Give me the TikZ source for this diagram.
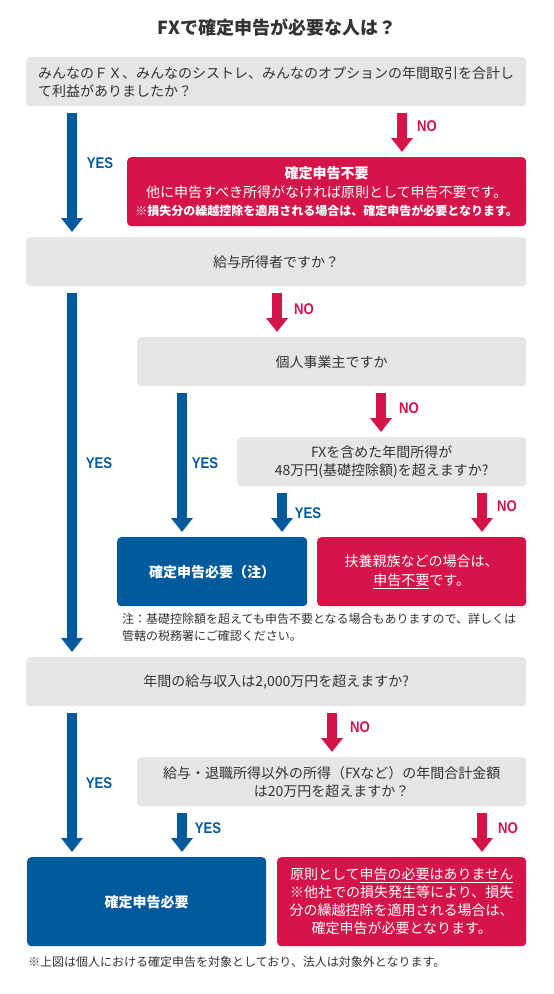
\documentclass[tikz,border=0pt]{standalone}
\usepackage{fontspec}
\setmainfont{Noto Sans CJK JP}
\newfontfamily\lblfont[FakeStretch=0.85]{Liberation Sans}
\usetikzlibrary{arrows.meta}
\definecolor{fxblue}{HTML}{005A9C}
\definecolor{fxred}{HTML}{D5154A}
\definecolor{fxgray}{HTML}{E6E6E6}
\definecolor{fxtext}{HTML}{333333}
\tikzset{
  boxbase/.style={rounded corners=4pt, inner sep=0pt, anchor=north west, align=center},
  qbox/.style={boxbase, fill=fxgray, text=fxtext, font=\fontsize{14}{18}\selectfont},
  rbox/.style={boxbase, fill=fxred, text=white, font=\fontsize{14}{18.5}\selectfont},
  bbox/.style={boxbase, fill=fxblue, text=white, font=\bfseries\fontsize{14}{18}\selectfont},
  yesarr/.style={color=fxblue, line width=10pt, -{Triangle[width=21pt,length=14pt]}, shorten <=7pt, shorten >=5pt},
  noarr/.style={yesarr, color=fxred},
  yeslbl/.style={text=fxblue, font=\lblfont\bfseries\fontsize{15.5}{15.5}\selectfont, inner sep=0pt},
  nolbl/.style={yeslbl, text=fxred},
  plaintext/.style={text=fxtext, inner sep=0pt, align=left, font=\fontsize{12}{17.5}\selectfont},
}
\begin{document}
\begin{tikzpicture}[x=1pt,y=-1pt]
\useasboundingbox (0,0) rectangle (554,994);
\fill[white] (0,0) rectangle (554,994);

\node[text=fxtext, inner sep=0pt, font=\bfseries\fontsize{18}{18}\selectfont] (title) at (277,28) {FXで確定申告が必要な人は？};

\node[qbox, minimum width=500pt, minimum height=49pt, text width=476pt, align=left] (q1) at (26,57)
  {みんなのＦＸ、みんなのシストレ、みんなのオプションの年間取引を合計し\\て利益がありましたか？};
\node[rbox, minimum width=399pt, minimum height=69pt] (r1) at (127,157)
  {\textbf{確定申告不要}\\他に申告すべき所得がなければ原則として申告不要です。\\{\bfseries\fontsize{12}{14}\selectfont ※損失分の繰越控除を適用される場合は、確定申告が必要となります。}};
\node[qbox, minimum width=500pt, minimum height=49pt] (q2) at (26,237) {給与所得者ですか？};
\node[qbox, minimum width=389pt, minimum height=49pt] (q3) at (137,337) {個人事業主ですか};
\node[qbox, minimum width=289pt, minimum height=49pt] (q4) at (237,437)
  {FXを含めた年間所得が\\48万円(基礎控除額)を超えますか?};
\node[bbox, minimum width=190pt, minimum height=69pt] (b1) at (117,537) {確定申告必要（注）};
\node[rbox, minimum width=209pt, minimum height=69pt] (r2) at (317,537)
  {扶養親族などの場合は、\\\underline{申告不要}です。};
\node[plaintext, anchor=north west] (note) at (122,613)
  {注：基礎控除額を超えても申告不要となる場合もありますので、詳しくは\\管轄の税務署にご確認ください。};
\node[qbox, minimum width=500pt, minimum height=49pt] (q5) at (26,657) {年間の給与収入は2,000万円を超えますか?};
\node[qbox, minimum width=389pt, minimum height=49pt] (q6) at (137,757)
  {給与・退職所得以外の所得（FXなど）の年間合計金額\\は20万円を超えますか？};
\node[bbox, minimum width=239pt, minimum height=89pt] (b2) at (27,857) {確定申告必要};
\node[rbox, minimum width=249pt, minimum height=89pt, font=\fontsize{14}{18}\selectfont] (r3) at (277,857)
  {原則として\underline{申告の必要はありません}\\※他社での損失発生等により、損失\\分の繰越控除を適用される場合は、\\確定申告が必要となります。};
\node[plaintext, anchor=west] (foot) at (28,962)
  {※上図は個人における確定申告を対象としており、法人は対象外となります。};

% arrow columns
\coordinate (cA) at (72,0);
\coordinate (cB) at (182,0);
\coordinate (cC) at (277,0);
\coordinate (cD) at (282,0);
\coordinate (cE) at (332,0);
\coordinate (cF) at (381,0);
\coordinate (cG) at (402,0);
\coordinate (cH) at (482,0);

\draw[yesarr] (q1.south -| cA) -- (q2.north -| cA);
\draw[noarr]  (q1.south -| cG) -- (r1.north -| cG);
\draw[yesarr] (q2.south -| cA) -- (q5.north -| cA);
\draw[noarr]  (q2.south -| cC) -- (q3.north -| cC);
\draw[yesarr] (q3.south -| cB) -- (b1.north -| cB);
\draw[noarr]  (q3.south -| cF) -- (q4.north -| cF);
\draw[yesarr] (q4.south -| cD) -- (b1.north -| cD);
\draw[noarr]  (q4.south -| cH) -- (r2.north -| cH);
\draw[yesarr] (q5.south -| cA) -- (b2.north -| cA);
\draw[noarr]  (q5.south -| cE) -- (q6.north -| cE);
\draw[yesarr] (q6.south -| cB) -- (b2.north -| cB);
\draw[noarr]  (q6.south -| cH) -- (r3.north -| cH);

\node[yeslbl] (y1) at (100,163) {YES};
\node[nolbl]  (n1) at (427,126) {NO};
\node[yeslbl] (y2) at (99,463) {YES};
\node[nolbl]  (n2) at (304,309) {NO};
\node[yeslbl] (y3) at (205,463) {YES};
\node[nolbl]  (n3) at (409,408) {NO};
\node[yeslbl] (y4) at (308,513) {YES};
\node[nolbl]  (n4) at (507,506) {NO};
\node[nolbl]  (n5) at (360,727) {NO};
\node[yeslbl] (y5) at (99,783) {YES};
\node[yeslbl] (y6) at (208,828) {YES};
\node[nolbl]  (n6) at (508,828) {NO};
\end{tikzpicture}
\end{document}
